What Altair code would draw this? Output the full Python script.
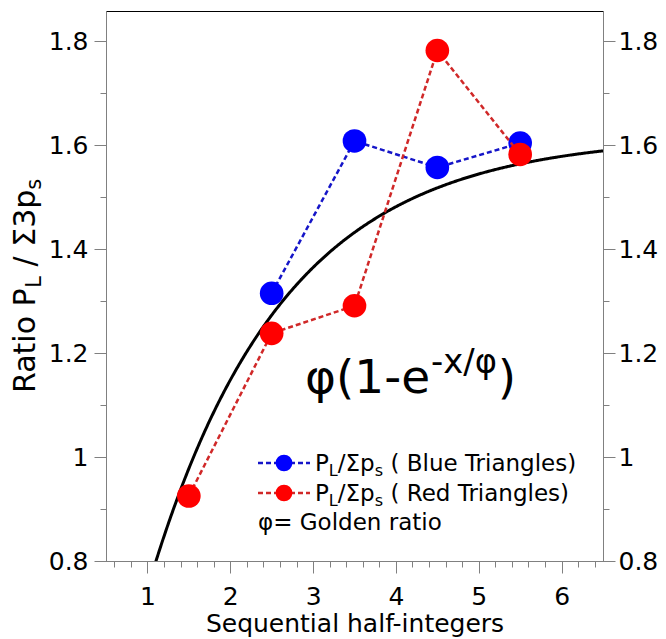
import altair as alt
import pandas as pd

# ---- data ----
blue_x = [2.5, 3.5, 4.5, 5.5]
blue_y = [1.315, 1.608, 1.557, 1.604]
red_x = [1.5, 2.5, 3.5, 4.5, 5.5]
red_y = [0.925, 1.238, 1.291, 1.782, 1.582]
PHI = 1.6180339887
x_major_ticks = [1, 2, 3, 4, 5, 6]
x_minor_ticks = [0.6, 0.8, 1.2, 1.4, 1.6, 1.8, 2.2, 2.4, 2.6, 2.8, 3.2, 3.4, 3.6, 3.8,
                 4.2, 4.4, 4.6, 4.8, 5.2, 5.4, 5.6, 5.8, 6.2, 6.4]
y_major_ticks = [0.8, 1.0, 1.2, 1.4, 1.6, 1.8]
y_minor_ticks = [0.9, 1.1, 1.3, 1.5, 1.7]

FONT = "DejaVu Sans"
W, H = 497, 550
NB = "\u00a0"

blue_df = pd.DataFrame({"x": blue_x, "y": blue_y})
red_df = pd.DataFrame({"x": red_x, "y": red_y})

xs = alt.Scale(domain=[0.5, 6.5], nice=False, zero=False)
ys = alt.Scale(domain=[0.8, 1.858], nice=False, zero=False)

common = dict(labelFlush=False, labelOverlap=False, grid=False,
              domainColor="#808080", tickColor="#808080")
x_major = alt.Axis(values=x_major_ticks, format="d", title="Sequential half-integers",
                   orient="bottom", tickSize=12, labelPadding=11, titlePadding=2, **common)
x_minor = alt.Axis(values=x_minor_ticks, labels=False, title=None, orient="bottom",
                   tickSize=6, **common)
y_left_major = alt.Axis(values=y_major_ticks, format="~g", title=None, orient="left",
                        tickSize=12, labelPadding=6, **common)
y_left_minor = alt.Axis(values=y_minor_ticks, labels=False, title=None, orient="left",
                        tickSize=6, **common)
y_right_major = alt.Axis(values=y_major_ticks, format="~g", title=None, orient="right",
                         tickSize=12, labelPadding=3, **common)
y_right_minor = alt.Axis(values=y_minor_ticks, labels=False, title=None, orient="right",
                         tickSize=6, **common)

def enc(xax, yax):
    return dict(x=alt.X("x:Q", scale=xs, axis=xax), y=alt.Y("y:Q", scale=ys, axis=yax))

curve = alt.Chart(alt.sequence(1.0, 6.52, 0.01, as_="x")).transform_calculate(
    y=f"{PHI}*(1-exp(-datum.x/{PHI}))"
).mark_line(color="black", strokeWidth=3, clip=True).encode(**enc(x_major, y_left_major))

BLUE_LINE, RED_LINE = "#1515c8", "#d02828"
blue_line = alt.Chart(blue_df).mark_line(color=BLUE_LINE, strokeWidth=2.5, strokeDash=[5, 3]).encode(
    **enc(x_minor, y_left_minor))
blue_pts = alt.Chart(blue_df).mark_circle(color="blue", opacity=1, size=560).encode(
    **enc(None, y_right_major))
red_line = alt.Chart(red_df).mark_line(color=RED_LINE, strokeWidth=2.5, strokeDash=[5, 3]).encode(
    **enc(None, y_right_minor))
red_pts = alt.Chart(red_df).mark_circle(color="red", opacity=1, size=560).encode(
    **enc(None, None))

one = alt.Data(values=[{}])

# advance widths of DejaVu Sans glyphs (em)
ADV = {" ": .318, NB: .318, "(": .390, ")": .390, "-": .361, "/": .337, "=": .838, ".": .318,
       "B": .686, "G": .776, "L": .557, "P": .603, "R": .695, "T": .611,
       "a": .613, "d": .635, "e": .615, "g": .635, "i": .278, "l": .278, "n": .634,
       "o": .612, "p": .635, "r": .411, "s": .521, "t": .392, "u": .634, "x": .592,
       "Σ": .632, "φ": .680}
for dgt in "0123456789":
    ADV[dgt] = .636

def width(t, size):
    return sum(ADV.get(c, .6) for c in t) * size

def rich(pieces, x0, y0, size, color="black", angle=0, sub_scale=0.7):
    """pieces: (text, kind, leading gap in em of the main size)"""
    layers = []
    s = 0.0
    for text, kind, gap in pieces:
        s += gap * size
        fs = size * (sub_scale if kind != "n" else 1.0)
        shift = {"n": 0.0, "sub": 0.2 * size, "sup": -0.42 * size}[kind]
        if angle == 0:
            px, py = x0 + s, y0 + shift
        else:
            px, py = x0 + shift, y0 - s
        layers.append(alt.Chart(one).mark_text(
            text=text, x=px, y=py, font=FONT, fontSize=fs, color=color,
            align="left", baseline="alphabetic", angle=angle, clip=False))
        s += width(text, fs)
    return layers

SP = 0.318  # width of a space, em

# annotations (pixel offsets inside the plot area)
ann = []
ann += rich([("φ(1-e", "n", 0), ("-x/φ", "sup", 0), (")", "n", 0)], 199, 382, 47, sub_scale=0.72)
ann += rich([("Ratio" + NB + "P", "n", 0), ("L", "sub", 0), ("/" + NB + "Σ3p", "n", SP), ("s", "sub", 0)],
            -71, 382, 30, angle=270)

def legend_row(y_c, line_color, pt_color, label):
    rl = alt.Chart(one).mark_rule(color=line_color, strokeWidth=2.5, strokeDash=[5, 3]).encode(
        x=alt.value(152), x2=alt.value(204), y=alt.value(y_c))
    pt = alt.Chart(one).mark_point(filled=True, shape="circle", size=280, color=pt_color, opacity=1).encode(
        x=alt.value(178), y=alt.value(y_c))
    return [rl, pt] + rich([("P", "n", 0), ("L", "sub", 0), ("/Σp", "n", 0), ("s", "sub", 0),
                            (label, "n", SP)], 209, y_c + 8, 23)

ann += legend_row(452, BLUE_LINE, "blue", "(" + NB + "Blue Triangles)")
ann += legend_row(482, RED_LINE, "red", "(" + NB + "Red Triangles)")
ann += rich([("φ=" + NB + "Golden ratio", "n", 0)], 152, 519, 23)

layers = [curve, blue_line, blue_pts, red_line, red_pts] + ann

chart = alt.layer(*layers).resolve_axis(x="independent", y="independent").properties(
    width=W, height=H,
    padding={"left": 98, "top": 3, "right": 55, "bottom": 78},
    autosize=alt.AutoSizeParams(type="none"),
).configure_view(stroke="black", strokeWidth=1).configure_axis(
    labelFont=FONT, labelFontSize=25, labelColor="black",
    titleFont=FONT, titleFontSize=25, titleFontWeight="normal", titleColor="black",
)

chart.save("out.html", embed_options={"renderer": "svg", "actions": False})
